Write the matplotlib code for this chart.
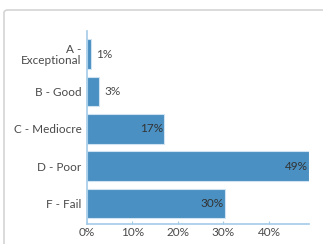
import matplotlib.pyplot as plt
from matplotlib.patches import FancyBboxPatch

categories = ['A -\nExceptional', 'B - Good', 'C - Mediocre', 'D - Poor', 'F - Fail']
values = [0.9, 2.6, 16.9, 48.8, 30.3]
xticks = [0, 10, 20, 30, 40]

plt.rcParams['font.family'] = ['Lato', 'DejaVu Sans']

bar_color = '#4a90c2'
spine_color = '#a3cbe8'
text_color = '#4a4a4a'

fig = plt.figure(figsize=(3.23, 2.44), dpi=100)

# card outline
card = FancyBboxPatch((4 / 323, -0.2), 1.2, (244 - 10) / 244 + 0.2,
                      boxstyle='round,pad=0,rounding_size=0.012',
                      transform=fig.transFigure, facecolor='white',
                      edgecolor='#d4d4d4', linewidth=1.2, zorder=-5)
fig.patches.append(card)

ax = fig.add_axes([87 / 323, (244 - 224) / 244, (309 - 87) / 323, (224 - 31) / 244])
ax.set_zorder(2)
ax.set_facecolor('none')

pos = list(range(len(categories)))
ax.barh(pos, values, height=0.8, color=bar_color, edgecolor='#cfe3f2', linewidth=0.8)
ax.set_yticks(pos)
ax.set_yticklabels(categories, fontsize=8.5, color=text_color, linespacing=0.95)
ax.set_ylim(len(categories) - 0.45, -0.62)
ax.set_xlim(0, max(values))
ax.set_xticks(xticks)
ax.set_xticklabels([f'{t}%' for t in xticks], fontsize=8.5, color=text_color)
ax.tick_params(axis='y', length=0, pad=4)
ax.tick_params(axis='x', direction='in', length=2.5, width=0.8, color=spine_color, pad=2.5)

for s in ['top', 'right']:
    ax.spines[s].set_visible(False)
for s in ['left', 'bottom']:
    ax.spines[s].set_color(spine_color)
    ax.spines[s].set_linewidth(1.2)

for p, v in zip(pos, values):
    label = f'{round(v)}%'
    if v < 8:
        ax.text(v + 1.2, p, label, va='center', ha='left', fontsize=8.5, color=text_color)
    else:
        ax.text(v - 0.2, p, label, va='center', ha='right', fontsize=8.5, color='#333333')

fig.savefig('out.png', dpi=100)
